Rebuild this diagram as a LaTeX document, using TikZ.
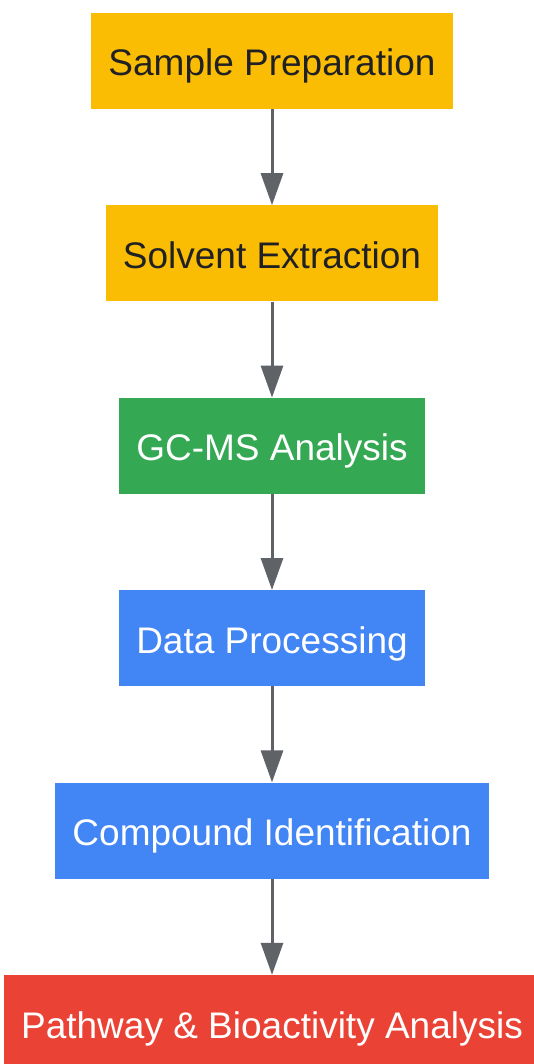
\documentclass[tikz,border=0pt]{standalone}
\usepackage{fontspec}
\setmainfont{Liberation Sans}
\usepackage{xcolor}
\usepackage{tikz}
\usetikzlibrary{positioning}
\usetikzlibrary{arrows.meta}
\definecolor{gelb}{HTML}{FBBC04}
\definecolor{gruen}{HTML}{34A853}
\definecolor{blau}{HTML}{4285F4}
\definecolor{rot}{HTML}{EA4335}
\definecolor{grau}{HTML}{5F6368}
\definecolor{dunkel}{HTML}{202124}
\tikzset{
  Schritt/.style={fill=#1,minimum height=96pt,inner xsep=17pt,
    text height=30pt,text depth=0pt,
    text=white,font={\fontsize{37}{44}\selectfont}}, % Kasten
  SchrittG/.style={Schritt=gelb,text=dunkel}, % gelber Kasten
  Pfeil/.style={grau,line width=3pt,-{Triangle[length=32pt,width=22pt]}} % Verbindung
}
\begin{document}
\begin{tikzpicture}[node distance=96pt]
\useasboundingbox (0pt,0pt) rectangle (534pt,-1064pt);

%Kaesten
\node[SchrittG] (probe) at (272pt,-61pt) {Sample Preparation};
\node[SchrittG, below=of probe] (extrakt) {Solvent Extraction};
\node[Schritt=gruen, below=of extrakt] (gcms) {GC-MS Analysis};
\node[Schritt=blau, below=of gcms] (daten) {Data Processing};
\node[Schritt=blau, below=of daten] (ident) {Compound Identification};
\node[Schritt=rot, below=of ident] (pfad) {Pathway \& Bioactivity Analysis};

%Pfeile
\draw[Pfeil] (probe) -- (extrakt);
\draw[Pfeil] (extrakt) -- (gcms);
\draw[Pfeil] (gcms) -- (daten);
\draw[Pfeil] (daten) -- (ident);
\draw[Pfeil] (ident) -- (pfad);

\end{tikzpicture}
\end{document}
